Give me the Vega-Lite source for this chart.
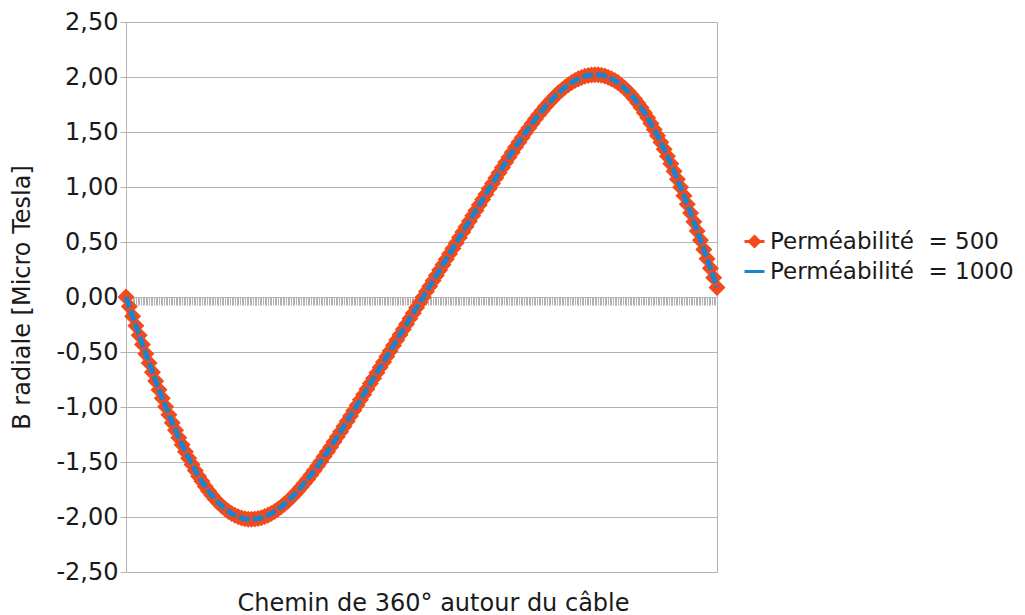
{
  "$schema": "https://vega.github.io/schema/vega-lite/v6.json",
  "width": 591,
  "height": 550,
  "autosize": {"type": "none"},
  "padding": {"left": 126, "top": 22, "right": 308, "bottom": 43},
  "background": "white",
  "config": {
    "font": "DejaVu Sans",
    "view": {"stroke": "#b3b3b3", "strokeWidth": 1},
    "locale": {"number": {"decimal": ",", "thousands": " ", "grouping": [3], "currency": ["", " €"], "minus": "-"}}
  },
  "data": {"values": [
    {"deg":0,"serie":"500","B":0},{"deg":2,"serie":"500","B":-0.087},{"deg":4,"serie":"500","B":-0.174},{"deg":6,"serie":"500","B":-0.261},{"deg":8,"serie":"500","B":-0.347},{"deg":10,"serie":"500","B":-0.432},{"deg":12,"serie":"500","B":-0.517},{"deg":14,"serie":"500","B":-0.600},{"deg":16,"serie":"500","B":-0.683},{"deg":18,"serie":"500","B":-0.764},{"deg":20,"serie":"500","B":-0.843},{"deg":22,"serie":"500","B":-0.921},{"deg":24,"serie":"500","B":-0.997},{"deg":26,"serie":"500","B":-1.071},{"deg":28,"serie":"500","B":-1.143},{"deg":30,"serie":"500","B":-1.212},{"deg":32,"serie":"500","B":-1.280},{"deg":34,"serie":"500","B":-1.344},{"deg":36,"serie":"500","B":-1.407},{"deg":38,"serie":"500","B":-1.467},{"deg":40,"serie":"500","B":-1.523},{"deg":42,"serie":"500","B":-1.577},{"deg":44,"serie":"500","B":-1.629},{"deg":46,"serie":"500","B":-1.676},{"deg":48,"serie":"500","B":-1.722},{"deg":50,"serie":"500","B":-1.764},{"deg":52,"serie":"500","B":-1.803},{"deg":54,"serie":"500","B":-1.838},{"deg":56,"serie":"500","B":-1.871},{"deg":58,"serie":"500","B":-1.900},{"deg":60,"serie":"500","B":-1.926},{"deg":62,"serie":"500","B":-1.949},{"deg":64,"serie":"500","B":-1.969},{"deg":66,"serie":"500","B":-1.985},{"deg":68,"serie":"500","B":-1.998},{"deg":70,"serie":"500","B":-2.009},{"deg":72,"serie":"500","B":-2.016},{"deg":74,"serie":"500","B":-2.020},{"deg":76,"serie":"500","B":-2.021},{"deg":78,"serie":"500","B":-2.019},{"deg":80,"serie":"500","B":-2.014},{"deg":82,"serie":"500","B":-2.007},{"deg":84,"serie":"500","B":-1.996},{"deg":86,"serie":"500","B":-1.983},{"deg":88,"serie":"500","B":-1.968},{"deg":90,"serie":"500","B":-1.950},{"deg":92,"serie":"500","B":-1.930},{"deg":94,"serie":"500","B":-1.907},{"deg":96,"serie":"500","B":-1.882},{"deg":98,"serie":"500","B":-1.856},{"deg":100,"serie":"500","B":-1.827},{"deg":102,"serie":"500","B":-1.796},{"deg":104,"serie":"500","B":-1.764},{"deg":106,"serie":"500","B":-1.729},{"deg":108,"serie":"500","B":-1.694},{"deg":110,"serie":"500","B":-1.656},{"deg":112,"serie":"500","B":-1.618},{"deg":114,"serie":"500","B":-1.578},{"deg":116,"serie":"500","B":-1.537},{"deg":118,"serie":"500","B":-1.495},{"deg":120,"serie":"500","B":-1.451},{"deg":122,"serie":"500","B":-1.407},{"deg":124,"serie":"500","B":-1.363},{"deg":126,"serie":"500","B":-1.317},{"deg":128,"serie":"500","B":-1.271},{"deg":130,"serie":"500","B":-1.224},{"deg":132,"serie":"500","B":-1.177},{"deg":134,"serie":"500","B":-1.129},{"deg":136,"serie":"500","B":-1.081},{"deg":138,"serie":"500","B":-1.032},{"deg":140,"serie":"500","B":-0.984},{"deg":142,"serie":"500","B":-0.935},{"deg":144,"serie":"500","B":-0.886},{"deg":146,"serie":"500","B":-0.836},{"deg":148,"serie":"500","B":-0.787},{"deg":150,"serie":"500","B":-0.738},{"deg":152,"serie":"500","B":-0.688},{"deg":154,"serie":"500","B":-0.639},{"deg":156,"serie":"500","B":-0.590},{"deg":158,"serie":"500","B":-0.540},{"deg":160,"serie":"500","B":-0.491},{"deg":162,"serie":"500","B":-0.442},{"deg":164,"serie":"500","B":-0.392},{"deg":166,"serie":"500","B":-0.343},{"deg":168,"serie":"500","B":-0.294},{"deg":170,"serie":"500","B":-0.245},{"deg":172,"serie":"500","B":-0.196},{"deg":174,"serie":"500","B":-0.147},{"deg":176,"serie":"500","B":-0.098},{"deg":178,"serie":"500","B":-0.049},{"deg":180,"serie":"500","B":0},{"deg":182,"serie":"500","B":0.049},{"deg":184,"serie":"500","B":0.098},{"deg":186,"serie":"500","B":0.147},{"deg":188,"serie":"500","B":0.196},{"deg":190,"serie":"500","B":0.245},{"deg":192,"serie":"500","B":0.294},{"deg":194,"serie":"500","B":0.343},{"deg":196,"serie":"500","B":0.392},{"deg":198,"serie":"500","B":0.442},{"deg":200,"serie":"500","B":0.491},{"deg":202,"serie":"500","B":0.540},{"deg":204,"serie":"500","B":0.590},{"deg":206,"serie":"500","B":0.639},{"deg":208,"serie":"500","B":0.688},{"deg":210,"serie":"500","B":0.738},{"deg":212,"serie":"500","B":0.787},{"deg":214,"serie":"500","B":0.836},{"deg":216,"serie":"500","B":0.886},{"deg":218,"serie":"500","B":0.935},{"deg":220,"serie":"500","B":0.984},{"deg":222,"serie":"500","B":1.032},{"deg":224,"serie":"500","B":1.081},{"deg":226,"serie":"500","B":1.129},{"deg":228,"serie":"500","B":1.177},{"deg":230,"serie":"500","B":1.224},{"deg":232,"serie":"500","B":1.271},{"deg":234,"serie":"500","B":1.317},{"deg":236,"serie":"500","B":1.363},{"deg":238,"serie":"500","B":1.407},{"deg":240,"serie":"500","B":1.451},{"deg":242,"serie":"500","B":1.495},{"deg":244,"serie":"500","B":1.537},{"deg":246,"serie":"500","B":1.578},{"deg":248,"serie":"500","B":1.618},{"deg":250,"serie":"500","B":1.656},{"deg":252,"serie":"500","B":1.694},{"deg":254,"serie":"500","B":1.729},{"deg":256,"serie":"500","B":1.764},{"deg":258,"serie":"500","B":1.796},{"deg":260,"serie":"500","B":1.827},{"deg":262,"serie":"500","B":1.856},{"deg":264,"serie":"500","B":1.882},{"deg":266,"serie":"500","B":1.907},{"deg":268,"serie":"500","B":1.930},{"deg":270,"serie":"500","B":1.950},{"deg":272,"serie":"500","B":1.968},{"deg":274,"serie":"500","B":1.983},{"deg":276,"serie":"500","B":1.996},{"deg":278,"serie":"500","B":2.007},{"deg":280,"serie":"500","B":2.014},{"deg":282,"serie":"500","B":2.019},{"deg":284,"serie":"500","B":2.021},{"deg":286,"serie":"500","B":2.020},{"deg":288,"serie":"500","B":2.016},{"deg":290,"serie":"500","B":2.009},{"deg":292,"serie":"500","B":1.998},{"deg":294,"serie":"500","B":1.985},{"deg":296,"serie":"500","B":1.969},{"deg":298,"serie":"500","B":1.949},{"deg":300,"serie":"500","B":1.926},{"deg":302,"serie":"500","B":1.900},{"deg":304,"serie":"500","B":1.871},{"deg":306,"serie":"500","B":1.838},{"deg":308,"serie":"500","B":1.803},{"deg":310,"serie":"500","B":1.764},{"deg":312,"serie":"500","B":1.722},{"deg":314,"serie":"500","B":1.676},{"deg":316,"serie":"500","B":1.629},{"deg":318,"serie":"500","B":1.577},{"deg":320,"serie":"500","B":1.523},{"deg":322,"serie":"500","B":1.467},{"deg":324,"serie":"500","B":1.407},{"deg":326,"serie":"500","B":1.344},{"deg":328,"serie":"500","B":1.280},{"deg":330,"serie":"500","B":1.212},{"deg":332,"serie":"500","B":1.143},{"deg":334,"serie":"500","B":1.071},{"deg":336,"serie":"500","B":0.997},{"deg":338,"serie":"500","B":0.921},{"deg":340,"serie":"500","B":0.843},{"deg":342,"serie":"500","B":0.764},{"deg":344,"serie":"500","B":0.683},{"deg":346,"serie":"500","B":0.600},{"deg":348,"serie":"500","B":0.517},{"deg":350,"serie":"500","B":0.432},{"deg":352,"serie":"500","B":0.347},{"deg":354,"serie":"500","B":0.261},{"deg":356,"serie":"500","B":0.174},{"deg":358,"serie":"500","B":0.087},
    {"deg":0,"serie":"1000","B":0},{"deg":2,"serie":"1000","B":-0.087},{"deg":4,"serie":"1000","B":-0.174},{"deg":6,"serie":"1000","B":-0.261},{"deg":8,"serie":"1000","B":-0.347},{"deg":10,"serie":"1000","B":-0.432},{"deg":12,"serie":"1000","B":-0.517},{"deg":14,"serie":"1000","B":-0.600},{"deg":16,"serie":"1000","B":-0.683},{"deg":18,"serie":"1000","B":-0.764},{"deg":20,"serie":"1000","B":-0.843},{"deg":22,"serie":"1000","B":-0.921},{"deg":24,"serie":"1000","B":-0.997},{"deg":26,"serie":"1000","B":-1.071},{"deg":28,"serie":"1000","B":-1.143},{"deg":30,"serie":"1000","B":-1.212},{"deg":32,"serie":"1000","B":-1.280},{"deg":34,"serie":"1000","B":-1.344},{"deg":36,"serie":"1000","B":-1.407},{"deg":38,"serie":"1000","B":-1.467},{"deg":40,"serie":"1000","B":-1.523},{"deg":42,"serie":"1000","B":-1.577},{"deg":44,"serie":"1000","B":-1.629},{"deg":46,"serie":"1000","B":-1.676},{"deg":48,"serie":"1000","B":-1.722},{"deg":50,"serie":"1000","B":-1.764},{"deg":52,"serie":"1000","B":-1.803},{"deg":54,"serie":"1000","B":-1.838},{"deg":56,"serie":"1000","B":-1.871},{"deg":58,"serie":"1000","B":-1.900},{"deg":60,"serie":"1000","B":-1.926},{"deg":62,"serie":"1000","B":-1.949},{"deg":64,"serie":"1000","B":-1.969},{"deg":66,"serie":"1000","B":-1.985},{"deg":68,"serie":"1000","B":-1.998},{"deg":70,"serie":"1000","B":-2.009},{"deg":72,"serie":"1000","B":-2.016},{"deg":74,"serie":"1000","B":-2.020},{"deg":76,"serie":"1000","B":-2.021},{"deg":78,"serie":"1000","B":-2.019},{"deg":80,"serie":"1000","B":-2.014},{"deg":82,"serie":"1000","B":-2.007},{"deg":84,"serie":"1000","B":-1.996},{"deg":86,"serie":"1000","B":-1.983},{"deg":88,"serie":"1000","B":-1.968},{"deg":90,"serie":"1000","B":-1.950},{"deg":92,"serie":"1000","B":-1.930},{"deg":94,"serie":"1000","B":-1.907},{"deg":96,"serie":"1000","B":-1.882},{"deg":98,"serie":"1000","B":-1.856},{"deg":100,"serie":"1000","B":-1.827},{"deg":102,"serie":"1000","B":-1.796},{"deg":104,"serie":"1000","B":-1.764},{"deg":106,"serie":"1000","B":-1.729},{"deg":108,"serie":"1000","B":-1.694},{"deg":110,"serie":"1000","B":-1.656},{"deg":112,"serie":"1000","B":-1.618},{"deg":114,"serie":"1000","B":-1.578},{"deg":116,"serie":"1000","B":-1.537},{"deg":118,"serie":"1000","B":-1.495},{"deg":120,"serie":"1000","B":-1.451},{"deg":122,"serie":"1000","B":-1.407},{"deg":124,"serie":"1000","B":-1.363},{"deg":126,"serie":"1000","B":-1.317},{"deg":128,"serie":"1000","B":-1.271},{"deg":130,"serie":"1000","B":-1.224},{"deg":132,"serie":"1000","B":-1.177},{"deg":134,"serie":"1000","B":-1.129},{"deg":136,"serie":"1000","B":-1.081},{"deg":138,"serie":"1000","B":-1.032},{"deg":140,"serie":"1000","B":-0.984},{"deg":142,"serie":"1000","B":-0.935},{"deg":144,"serie":"1000","B":-0.886},{"deg":146,"serie":"1000","B":-0.836},{"deg":148,"serie":"1000","B":-0.787},{"deg":150,"serie":"1000","B":-0.738},{"deg":152,"serie":"1000","B":-0.688},{"deg":154,"serie":"1000","B":-0.639},{"deg":156,"serie":"1000","B":-0.590},{"deg":158,"serie":"1000","B":-0.540},{"deg":160,"serie":"1000","B":-0.491},{"deg":162,"serie":"1000","B":-0.442},{"deg":164,"serie":"1000","B":-0.392},{"deg":166,"serie":"1000","B":-0.343},{"deg":168,"serie":"1000","B":-0.294},{"deg":170,"serie":"1000","B":-0.245},{"deg":172,"serie":"1000","B":-0.196},{"deg":174,"serie":"1000","B":-0.147},{"deg":176,"serie":"1000","B":-0.098},{"deg":178,"serie":"1000","B":-0.049},{"deg":180,"serie":"1000","B":0},{"deg":182,"serie":"1000","B":0.049},{"deg":184,"serie":"1000","B":0.098},{"deg":186,"serie":"1000","B":0.147},{"deg":188,"serie":"1000","B":0.196},{"deg":190,"serie":"1000","B":0.245},{"deg":192,"serie":"1000","B":0.294},{"deg":194,"serie":"1000","B":0.343},{"deg":196,"serie":"1000","B":0.392},{"deg":198,"serie":"1000","B":0.442},{"deg":200,"serie":"1000","B":0.491},{"deg":202,"serie":"1000","B":0.540},{"deg":204,"serie":"1000","B":0.590},{"deg":206,"serie":"1000","B":0.639},{"deg":208,"serie":"1000","B":0.688},{"deg":210,"serie":"1000","B":0.738},{"deg":212,"serie":"1000","B":0.787},{"deg":214,"serie":"1000","B":0.836},{"deg":216,"serie":"1000","B":0.886},{"deg":218,"serie":"1000","B":0.935},{"deg":220,"serie":"1000","B":0.984},{"deg":222,"serie":"1000","B":1.032},{"deg":224,"serie":"1000","B":1.081},{"deg":226,"serie":"1000","B":1.129},{"deg":228,"serie":"1000","B":1.177},{"deg":230,"serie":"1000","B":1.224},{"deg":232,"serie":"1000","B":1.271},{"deg":234,"serie":"1000","B":1.317},{"deg":236,"serie":"1000","B":1.363},{"deg":238,"serie":"1000","B":1.407},{"deg":240,"serie":"1000","B":1.451},{"deg":242,"serie":"1000","B":1.495},{"deg":244,"serie":"1000","B":1.537},{"deg":246,"serie":"1000","B":1.578},{"deg":248,"serie":"1000","B":1.618},{"deg":250,"serie":"1000","B":1.656},{"deg":252,"serie":"1000","B":1.694},{"deg":254,"serie":"1000","B":1.729},{"deg":256,"serie":"1000","B":1.764},{"deg":258,"serie":"1000","B":1.796},{"deg":260,"serie":"1000","B":1.827},{"deg":262,"serie":"1000","B":1.856},{"deg":264,"serie":"1000","B":1.882},{"deg":266,"serie":"1000","B":1.907},{"deg":268,"serie":"1000","B":1.930},{"deg":270,"serie":"1000","B":1.950},{"deg":272,"serie":"1000","B":1.968},{"deg":274,"serie":"1000","B":1.983},{"deg":276,"serie":"1000","B":1.996},{"deg":278,"serie":"1000","B":2.007},{"deg":280,"serie":"1000","B":2.014},{"deg":282,"serie":"1000","B":2.019},{"deg":284,"serie":"1000","B":2.021},{"deg":286,"serie":"1000","B":2.020},{"deg":288,"serie":"1000","B":2.016},{"deg":290,"serie":"1000","B":2.009},{"deg":292,"serie":"1000","B":1.998},{"deg":294,"serie":"1000","B":1.985},{"deg":296,"serie":"1000","B":1.969},{"deg":298,"serie":"1000","B":1.949},{"deg":300,"serie":"1000","B":1.926},{"deg":302,"serie":"1000","B":1.900},{"deg":304,"serie":"1000","B":1.871},{"deg":306,"serie":"1000","B":1.838},{"deg":308,"serie":"1000","B":1.803},{"deg":310,"serie":"1000","B":1.764},{"deg":312,"serie":"1000","B":1.722},{"deg":314,"serie":"1000","B":1.676},{"deg":316,"serie":"1000","B":1.629},{"deg":318,"serie":"1000","B":1.577},{"deg":320,"serie":"1000","B":1.523},{"deg":322,"serie":"1000","B":1.467},{"deg":324,"serie":"1000","B":1.407},{"deg":326,"serie":"1000","B":1.344},{"deg":328,"serie":"1000","B":1.280},{"deg":330,"serie":"1000","B":1.212},{"deg":332,"serie":"1000","B":1.143},{"deg":334,"serie":"1000","B":1.071},{"deg":336,"serie":"1000","B":0.997},{"deg":338,"serie":"1000","B":0.921},{"deg":340,"serie":"1000","B":0.843},{"deg":342,"serie":"1000","B":0.764},{"deg":344,"serie":"1000","B":0.683},{"deg":346,"serie":"1000","B":0.600},{"deg":348,"serie":"1000","B":0.517},{"deg":350,"serie":"1000","B":0.432},{"deg":352,"serie":"1000","B":0.347},{"deg":354,"serie":"1000","B":0.261},{"deg":356,"serie":"1000","B":0.174},{"deg":358,"serie":"1000","B":0.087}
  ]},
  "encoding": {
    "x": {
      "field": "deg", "type": "quantitative",
      "scale": {"domain": [0, 358], "nice": false, "zero": false},
      "axis": {
        "title": "Chemin de 360° autour du câble",
        "labels": false, "grid": false, "tickCount": 358,
        "tickSize": 8, "tickWidth": 1, "tickColor": "#b3b3b3",
        "domainColor": "#b3b3b3", "offset": -275, "zindex": 0,
        "titleFontSize": 24, "titleFontWeight": "normal", "titleColor": "#1a1a1a",
        "titleX": 307, "titleY": 313, "titleAlign": "center", "titleBaseline": "alphabetic"
      }
    },
    "y": {
      "field": "B", "type": "quantitative",
      "scale": {"domain": [-2.5, 2.5], "nice": false, "zero": false},
      "axis": {
        "title": "B radiale [Micro Tesla]",
        "values": [-2.5, -2, -1.5, -1, -0.5, 0, 0.5, 1, 1.5, 2, 2.5],
        "format": ".2f", "labelFontSize": 24, "labelColor": "#1a1a1a", "labelPadding": 2,
        "labelFlush": false, "tickSize": 6, "tickColor": "#b3b3b3", "domainColor": "#b3b3b3",
        "gridColor": "#b3b3b3", "gridWidth": 1, "zindex": 0,
        "titleFontSize": 24, "titleFontWeight": "normal", "titleColor": "#1a1a1a",
        "titleX": -104, "titleY": 275, "titleAngle": -90, "titleAlign": "center", "titleBaseline": "middle"
      }
    },
    "color": {
      "field": "serie", "type": "nominal",
      "scale": {"domain": ["500", "1000"], "range": ["#f24a1c", "#1a84cf"]},
      "legend": {
        "title": null, "orient": "none", "legendX": 617, "legendY": 208,
        "labelExpr": "'Perméabilité\u00a0 = ' + datum.label",
        "labelFontSize": 23, "labelColor": "#1a1a1a", "labelOffset": 4, "labelLimit": 0,
        "symbolSize": 400, "symbolStrokeWidth": 3, "rowPadding": 6, "padding": 0,
        "encode": {"symbols": {"update": {
          "shape": {"signal": "datum.value === '500' ? 'M-1,0L1,0M0,-0.5L0.5,0L0,0.5L-0.5,0Z' : 'M-1,0L1,0'"},
          "fill": {"scale": "color", "field": "value"},
          "stroke": {"scale": "color", "field": "value"},
          "strokeWidth": {"value": 3},
          "opacity": {"value": 1},
          "size": {"value": 400}
        }}}
      }
    }
  },
  "layer": [
    {"transform": [{"filter": "datum.serie === '500'"}], "mark": {"type": "line", "strokeWidth": 5}},
    {"transform": [{"filter": "datum.serie === '500'"}], "mark": {"type": "point", "shape": "diamond", "filled": true, "size": 290, "opacity": 1}},
    {"transform": [{"filter": "datum.serie === '1000'"}], "mark": {"type": "line", "strokeWidth": 5, "strokeDash": [11, 3]}}
  ]
}
